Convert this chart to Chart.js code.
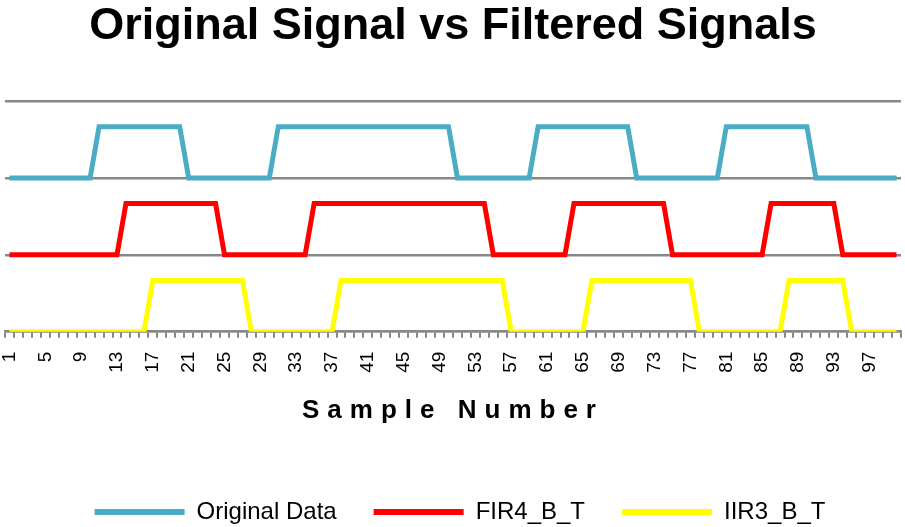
<!DOCTYPE html>
<html>
<head>
<meta charset="utf-8">
<script src="https://cdn.jsdelivr.net/npm/chart.js@4.4.1/dist/chart.umd.min.js"></script>
<style>
  html, body { margin: 0; padding: 0; background: #ffffff; }
  #wrap { width: 905px; height: 527px; }
</style>
</head>
<body>
<div id="wrap"><canvas id="c" width="905" height="527"></canvas></div>
<script>
const categories = [
  '1','2','3','4','5','6','7','8','9','10',
  '11','12','13','14','15','16','17','18','19','20',
  '21','22','23','24','25','26','27','28','29','30',
  '31','32','33','34','35','36','37','38','39','40',
  '41','42','43','44','45','46','47','48','49','50',
  '51','52','53','54','55','56','57','58','59','60',
  '61','62','63','64','65','66','67','68','69','70',
  '71','72','73','74','75','76','77','78','79','80',
  '81','82','83','84','85','86','87','88','89','90',
  '91','92','93','94','95','96','97','98','99','100'
];

const tickLabels = ['1','5','9','13','17','21','25','29','33','37','41','45','49',
  '53','57','61','65','69','73','77','81','85','89','93','97'];

const originalData = [
  3,3,3,3,3,3,3,3,3,3,
  4,4,4,4,4,4,4,4,4,4,
  3,3,3,3,3,3,3,3,3,3,
  4,4,4,4,4,4,4,4,4,4,
  4,4,4,4,4,4,4,4,4,4,
  3,3,3,3,3,3,3,3,3,4,
  4,4,4,4,4,4,4,4,4,4,
  3,3,3,3,3,3,3,3,3,3,
  4,4,4,4,4,4,4,4,4,4,
  3,3,3,3,3,3,3,3,3,3
];

const fir4BT = [
  1.5,1.5,1.5,1.5,1.5,1.5,1.5,1.5,1.5,1.5,
  1.5,1.5,1.5,2.5,2.5,2.5,2.5,2.5,2.5,2.5,
  2.5,2.5,2.5,2.5,1.5,1.5,1.5,1.5,1.5,1.5,
  1.5,1.5,1.5,1.5,2.5,2.5,2.5,2.5,2.5,2.5,
  2.5,2.5,2.5,2.5,2.5,2.5,2.5,2.5,2.5,2.5,
  2.5,2.5,2.5,2.5,1.5,1.5,1.5,1.5,1.5,1.5,
  1.5,1.5,1.5,2.5,2.5,2.5,2.5,2.5,2.5,2.5,
  2.5,2.5,2.5,2.5,1.5,1.5,1.5,1.5,1.5,1.5,
  1.5,1.5,1.5,1.5,1.5,2.5,2.5,2.5,2.5,2.5,
  2.5,2.5,2.5,1.5,1.5,1.5,1.5,1.5,1.5,1.5
];

const iir3BT = [
  0,0,0,0,0,0,0,0,0,0,
  0,0,0,0,0,0,1,1,1,1,
  1,1,1,1,1,1,1,0,0,0,
  0,0,0,0,0,0,0,1,1,1,
  1,1,1,1,1,1,1,1,1,1,
  1,1,1,1,1,1,0,0,0,0,
  0,0,0,0,0,1,1,1,1,1,
  1,1,1,1,1,1,1,0,0,0,
  0,0,0,0,0,0,0,1,1,1,
  1,1,1,1,0,0,0,0,0,0
];

const seriesNames = ['Original Data', 'FIR4_B_T', 'IIR3_B_T'];
const seriesColors = ['#4BACC6', '#FF0000', '#FFFF00'];
const yTicks = { min: 0, max: 4.5, step: 1.5 };

const FONT = "'Liberation Sans', Arial, sans-serif";
Chart.defaults.font.family = FONT;
Chart.defaults.color = '#000000';

class SpacedCategoryScale extends Chart.CategoryScale {
  drawTitle() {
    const ctx = this.ctx;
    ctx.save();
    ctx.letterSpacing = '8px';
    super.drawTitle();
    ctx.restore();
  }
}
SpacedCategoryScale.id = 'spacedCategory';
SpacedCategoryScale.defaults = Chart.CategoryScale.defaults;
Chart.register(SpacedCategoryScale);

const LEGEND_SHIFT = 7;
const legendShift = {
  id: 'legendShift',
  afterLayout(chart) {
    if (chart.legend) {
      chart.legend.left += LEGEND_SHIFT;
      chart.legend.right += LEGEND_SHIFT;
    }
  }
};

const GRID = '#888888';

const ds = (i, data) => ({
  label: seriesNames[i],
  data: data,
  borderColor: seriesColors[i],
  backgroundColor: seriesColors[i],
  borderWidth: 5,
  pointRadius: 0,
  pointHoverRadius: 0,
  tension: 0,
  fill: false,
  borderJoinStyle: 'miter'
});

new Chart(document.getElementById('c'), {
  type: 'line',
  data: {
    labels: categories,
    datasets: [ds(0, originalData), ds(1, fir4BT), ds(2, iir3BT)]
  },
  plugins: [legendShift],
  options: {
    responsive: false,
    animation: false,
    devicePixelRatio: 1,
    layout: { padding: { left: 5, right: 4, top: 0, bottom: -7 } },
    plugins: {
      title: {
        display: true,
        text: 'Original Signal vs Filtered Signals',
        font: { size: 45, weight: 'bold', family: FONT },
        color: '#000000',
        padding: { top: 0, bottom: 47 }
      },
      legend: {
        position: 'bottom',
        labels: {
          boxWidth: 90,
          boxHeight: 6,
          padding: 37,
          color: '#000000',
          font: { size: 24, family: FONT },
          generateLabels(chart) {
            const items = Chart.defaults.plugins.legend.labels.generateLabels(chart);
            items.forEach(it => { it.fillStyle = it.strokeStyle; it.lineWidth = 0; });
            return items;
          }
        }
      },
      tooltip: { enabled: false }
    },
    scales: {
      x: {
        type: 'spacedCategory',
        offset: true,
        grid: {
          offset: true,
          drawOnChartArea: false,
          drawTicks: true,
          tickLength: 6,
          color: GRID,
          lineWidth: 2
        },
        border: { display: true, color: GRID, width: 2.5 },
        ticks: {
          autoSkip: false,
          minRotation: 90,
          maxRotation: 90,
          padding: 14,
          color: '#000000',
          font: { size: 19, family: FONT },
          callback(value) {
            const lab = this.getLabelForValue(value);
            return tickLabels.includes(lab) ? lab : '';
          }
        },
        title: {
          display: true,
          text: 'Sample Number',
          color: '#000000',
          font: { size: 26, weight: 'bold', family: FONT },
          padding: { top: 8, bottom: 37 }
        },
        afterFit(scale) { scale.paddingLeft = 0; scale.paddingRight = 0; }
      },
      y: {
        min: yTicks.min,
        max: yTicks.max,
        ticks: { stepSize: yTicks.step, display: false },
        grid: { color: GRID, lineWidth: 2.5, drawTicks: false },
        border: { display: false }
      }
    }
  }
});
</script>
</body>
</html>
